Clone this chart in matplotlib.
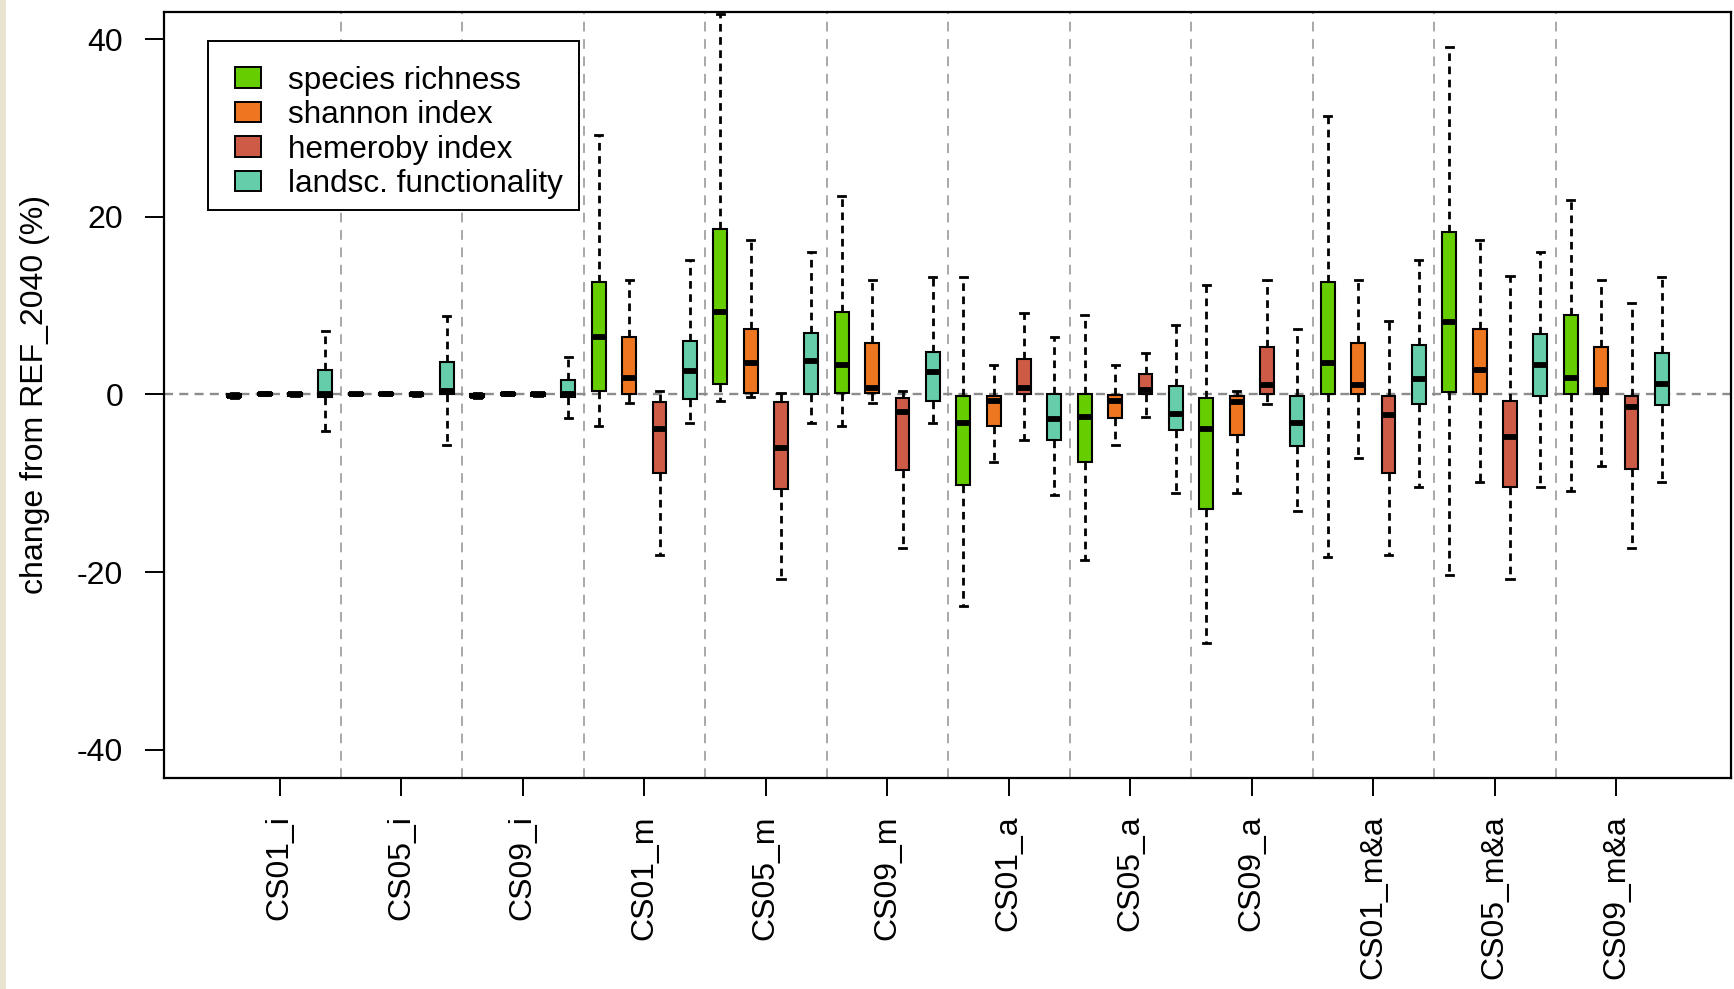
import matplotlib
matplotlib.use("Agg")
import matplotlib.pyplot as plt
from matplotlib.patches import Patch, Rectangle

plt.rcParams["font.family"] = ["Liberation Sans", "DejaVu Sans"]
plt.rcParams["axes.unicode_minus"] = False
plt.rcParams["lines.scale_dashes"] = False

# scenarios on the x axis
scenarios = ["CS01_i", "CS05_i", "CS09_i", "CS01_m", "CS05_m", "CS09_m",
             "CS01_a", "CS05_a", "CS09_a", "CS01_m&a", "CS05_m&a", "CS09_m&a"]

# per scenario: (whisker low, q1, median, q3, whisker high), change from REF_2040 in %
species_richness = [
    (-0.4, -0.3, -0.15, 0.1, 0.15), (-0.1, -0.1, 0.0, 0.15, 0.2), (-0.35, -0.3, -0.15, 0.1, 0.15),
    (-3.5, 0.4, 6.5, 12.7, 29.2), (-0.7, 1.2, 9.3, 18.7, 42.9), (-3.5, 0.15, 3.3, 9.3, 22.4),
    (-23.8, -10.2, -3.2, -0.2, 13.2), (-18.7, -7.6, -2.5, 0.0, 9.0), (-28.0, -12.9, -3.9, -0.45, 12.3),
    (-18.3, 0.0, 3.5, 12.7, 31.4), (-20.3, 0.25, 8.2, 18.3, 39.2), (-10.9, 0.0, 1.9, 9.0, 21.9),
]
shannon_index = [
    (-0.1, -0.1, 0.05, 0.2, 0.25), (-0.1, -0.1, 0.05, 0.2, 0.25), (-0.1, -0.1, 0.05, 0.2, 0.25),
    (-0.95, 0.0, 1.9, 6.5, 12.95), (-0.25, 0.15, 3.6, 7.4, 17.4), (-0.95, 0.15, 0.75, 5.8, 12.95),
    (-7.6, -3.5, -0.7, -0.2, 3.3), (-5.7, -2.6, -0.7, -0.1, 3.3), (-11.1, -4.6, -0.85, -0.2, 0.45),
    (-7.1, 0.0, 1.05, 5.8, 12.95), (-9.9, 0.0, 2.8, 7.4, 17.4), (-8.1, 0.0, 0.5, 5.4, 12.95),
]
hemeroby_index = [
    (-0.2, -0.15, 0.0, 0.15, 0.2), (-0.2, -0.15, 0.0, 0.15, 0.2), (-0.2, -0.15, 0.0, 0.15, 0.2),
    (-18.1, -8.8, -3.9, -0.85, 0.4), (-20.8, -10.7, -6.0, -0.85, 0.15), (-17.3, -8.5, -2.0, -0.45, 0.4),
    (-5.1, 0.0, 0.75, 4.0, 9.2), (-2.5, 0.05, 0.5, 2.3, 4.7), (-1.1, 0.0, 1.05, 5.4, 12.95),
    (-18.1, -8.8, -2.3, -0.2, 8.3), (-20.8, -10.4, -4.8, -0.7, 13.35), (-17.3, -8.4, -1.4, -0.2, 10.3),
]
landsc_functionality = [
    (-4.1, -0.3, 0.1, 2.8, 7.2), (-5.7, 0.07, 0.45, 3.7, 8.8), (-2.7, -0.3, 0.07, 1.65, 4.2),
    (-3.2, -0.5, 2.7, 6.0, 15.1), (-3.2, 0.0, 3.8, 6.9, 16.1), (-3.2, -0.7, 2.5, 4.8, 13.2),
    (-11.3, -5.1, -2.8, 0.0, 6.5), (-11.1, -4.0, -2.2, 1.0, 7.8), (-13.15, -5.8, -3.2, -0.2, 7.4),
    (-10.4, -1.1, 1.7, 5.6, 15.1), (-10.4, -0.2, 3.3, 6.8, 16.1), (-9.9, -1.2, 1.15, 4.7, 13.2),
]

indicators = ["species richness", "shannon index", "hemeroby index", "landsc. functionality"]
series = [species_richness, shannon_index, hemeroby_index, landsc_functionality]
colors = ["#66CD00", "#EE7621", "#CD5B45", "#66CDAA"]

fig = plt.figure(figsize=(17.34, 9.89), dpi=100)
ax = fig.add_axes([0.0946, 0.2134, 0.9034, 0.7748])

# group separators and zero line (behind the boxes)
for g in range(len(scenarios) - 1):
    ax.axvline(g + 0.5, color="#9a9a9a", lw=1.2, ls=(0, (7, 5.5)), zorder=0)
ax.axhline(0, color="#8c8c8c", lw=1.7, ls=(0, (6.5, 4.5)), zorder=0)

step = 0.25
for k, (vals, col) in enumerate(zip(series, colors)):
    stats = [dict(whislo=lo, q1=q1, med=md, q3=q3, whishi=hi, fliers=[])
             for lo, q1, md, q3, hi in vals]
    pos = [g + (k - 1.5) * step for g in range(len(scenarios))]
    ax.bxp(stats, positions=pos, widths=0.115, capwidths=0.058, patch_artist=True,
           showfliers=False, manage_ticks=False,
           boxprops=dict(facecolor=col, edgecolor="black", lw=1.5),
           medianprops=dict(color="black", lw=4.2, solid_capstyle="butt"),
           whiskerprops=dict(color="black", lw=2.0, ls=(0, (5.5, 4))),
           capprops=dict(color="black", lw=2.0))

ax.set_xlim(-0.953, 11.94)
ax.set_ylim(-43.2, 43.13)
ax.set_xticks(range(len(scenarios)))
ax.set_xticklabels(scenarios, rotation=90, fontsize=23, va="top")
ax.set_yticks([-40, -20, 0, 20, 40])
ax.tick_params(axis="y", labelsize=23, length=13.5, width=1.4, pad=16)
ax.tick_params(axis="x", length=13, width=1.4, pad=14)
ax.set_ylabel("change from REF_2040 (%)", fontsize=23, labelpad=19)
for sp in ax.spines.values():
    sp.set_linewidth(1.6)

# legend entries without frame, box drawn separately (R-style legend box)
handles = [Patch(facecolor=c, edgecolor="black", lw=1.4) for c in colors]
leg = ax.legend(handles, indicators, loc="upper left", bbox_to_anchor=(0.0456, 0.9295),
                fontsize=22.7, frameon=False, handlelength=0.82, handleheight=0.62,
                handletextpad=0.85, labelspacing=0.14, borderpad=0, borderaxespad=0)
ax.add_patch(Rectangle((0.0281, 0.7412), 0.2371, 0.2205, transform=ax.transAxes,
                       facecolor="white", edgecolor="black", lw=1.4, zorder=4))
leg.set_zorder(5)

# beige strip along the left edge of the screenshot
fig.patches.append(Rectangle((0, 0), 6 / 1734, 1, transform=fig.transFigure,
                             facecolor="#ebe3d1", edgecolor="none"))

fig.savefig("out.png", dpi=100)
